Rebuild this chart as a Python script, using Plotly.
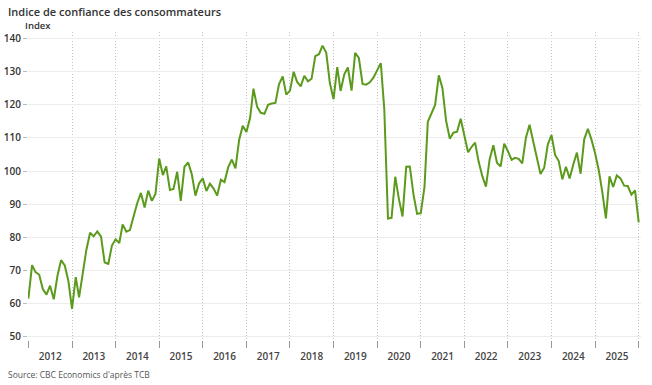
import pandas as pd
import plotly.graph_objects as go

start_month = "2012-01-01"

v2012 = [61.5, 71.6, 69.5, 68.7, 64.4, 62.7, 65.4, 61.3, 68.4, 73.1, 71.5, 66.9]
v2013 = [58.4, 68.0, 61.9, 69.0, 76.2, 81.4, 80.3, 81.8, 80.2, 72.4, 72.0, 77.5]
v2014 = [79.4, 78.3, 83.9, 81.7, 82.2, 86.4, 90.3, 93.4, 89.0, 94.1, 91.0, 93.1]
v2015 = [103.8, 98.8, 101.4, 94.3, 94.6, 99.8, 91.0, 101.3, 102.6, 99.1, 92.6, 96.3]
v2016 = [97.8, 94.0, 96.2, 94.7, 92.6, 97.4, 96.7, 101.1, 103.5, 100.8, 109.4, 113.7]
v2017 = [111.8, 116.1, 124.9, 119.4, 117.6, 117.3, 120.0, 120.4, 120.6, 126.2, 128.6, 123.1]
v2018 = [124.3, 130.0, 127.0, 125.6, 128.8, 127.1, 127.9, 134.7, 135.3, 137.9, 135.7, 126.6]
v2019 = [121.7, 131.4, 124.2, 129.2, 131.3, 124.3, 135.7, 134.2, 126.3, 126.1, 126.8, 128.2]
v2020 = [130.4, 132.6, 118.8, 85.7, 85.9, 98.3, 91.7, 86.3, 101.3, 101.4, 92.9, 87.1]
v2021 = [87.3, 95.2, 114.9, 117.5, 120.0, 128.9, 125.1, 115.2, 109.8, 111.6, 111.9, 115.8]
v2022 = [111.1, 105.7, 107.2, 108.6, 102.8, 98.4, 95.3, 103.6, 107.8, 102.5, 101.4, 108.3]
v2023 = [106.0, 103.4, 104.0, 103.7, 102.3, 110.1, 114.0, 108.7, 104.3, 99.1, 101.0, 108.0]
v2024 = [110.9, 104.8, 103.1, 97.5, 101.3, 97.8, 101.9, 105.6, 99.2, 109.6, 112.8, 109.5]
v2025 = [105.3, 100.1, 93.9, 85.7, 98.4, 95.2, 98.7, 97.8, 95.6, 95.5, 92.9, 94.2]
v2026 = [84.5]

values = (v2012 + v2013 + v2014 + v2015 + v2016 + v2017 + v2018 + v2019 +
          v2020 + v2021 + v2022 + v2023 + v2024 + v2025 + v2026)
dates = pd.date_range(start_month, periods=len(values), freq="MS")

y_ticks = [50, 60, 70, 80, 90, 100, 110, 120, 130, 140]

title_text = "Indice de confiance des consommateurs"
unit_text = "Index"
source_text = "Source: CBC Economics d'après TCB"

FONT = "Open Sans, Segoe UI, Arial, sans-serif"

ML, MR, MT, MB = 28, 11, 32, 45
PW = 652 - ML - MR
PH = 385 - MT - MB

fig = go.Figure()
fig.add_trace(go.Scatter(
    x=dates, y=values, mode="lines",
    line=dict(color="#5b9a1c", width=2),
    hoverinfo="skip", showlegend=False, cliponaxis=False,
))

fig.update_layout(
    width=652, height=385,
    margin=dict(l=ML, r=MR, t=MT, b=MB, autoexpand=False),
    paper_bgcolor="white", plot_bgcolor="white",
    font=dict(family=FONT, color="#333"),
    xaxis=dict(
        type="date", automargin=False,
        range=["2011-12-29", "2026-01-20"],
        tick0="2012-01-01", dtick="M12",
        ticklabelmode="period", tickformat="%Y",
        showgrid=True, gridcolor="#c4c4c4", griddash="1px,2px", gridwidth=1,
        ticks="outside", ticklen=7, tickcolor="#999", tickwidth=1,
        tickfont=dict(size=10, color="#444", family=FONT, weight=600),
        showline=False, zeroline=False,
    ),
    yaxis=dict(
        automargin=False,
        range=[49, 142],
        tickvals=y_ticks,
        showgrid=True, gridcolor="#ececec", gridwidth=1,
        ticks="outside", ticklen=4, tickcolor="#bbb",
        tickfont=dict(size=10, color="#333", family=FONT, weight=600),
        showline=False, zeroline=False,
    ),
    annotations=[
        dict(text=title_text, xref="paper", yref="paper", x=-ML / PW, y=1 + (MT - 11.5) / PH,
             xanchor="left", yanchor="middle", showarrow=False,
             font=dict(size=11, color="#333", family=FONT, weight=600), xshift=6),
        dict(text=unit_text, xref="paper", yref="paper", x=-ML / PW, y=1 + (MT - 25) / PH,
             xanchor="left", yanchor="middle", showarrow=False,
             font=dict(size=9.5, color="#333", family=FONT, weight=600), xshift=23),
        dict(text=source_text, xref="paper", yref="paper", x=-ML / PW, y=-(374 - (385 - MB)) / PH,
             xanchor="left", yanchor="middle", showarrow=False,
             font=dict(size=8.5, color="#555", family=FONT), xshift=6),
    ],
)

fig.write_html("out.html", config={"displayModeBar": False},
               post_script="document.body.style.margin='0';")
